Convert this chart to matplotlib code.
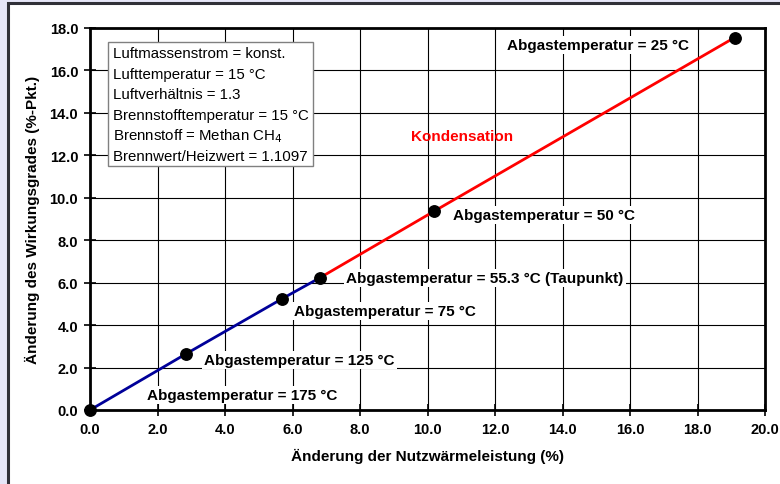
import matplotlib.pyplot as plt
import matplotlib.patches as patches
from matplotlib.ticker import FormatStrFormatter

plt.rcParams['font.family'] = ['Liberation Sans', 'DejaVu Sans']

# Daten
waerme_unter = [0.0, 2.85, 5.7, 6.8]       # Änderung Nutzwärmeleistung (%), oberhalb Taupunkt
wirk_unter = [0.0, 2.65, 5.25, 6.22]       # Änderung Wirkungsgrad (%-Pkt.)
waerme_kond = [6.8, 10.2, 19.1]            # Kondensationsbereich
wirk_kond = [6.22, 9.37, 17.55]
punkte_x = [0.0, 2.85, 5.7, 6.8, 10.2, 19.1]
punkte_y = [0.0, 2.65, 5.25, 6.22, 9.37, 17.55]
labels = ['Abgastemperatur = 175 °C', 'Abgastemperatur = 125 °C',
          'Abgastemperatur = 75 °C', 'Abgastemperatur = 55.3 °C (Taupunkt)',
          'Abgastemperatur = 50 °C', 'Abgastemperatur = 25 °C']
label_pos = [(1.69, 0.71), (3.38, 2.36), (6.04, 4.67), (7.59, 6.22), (10.76, 9.19), (12.36, 17.2)]
info_zeilen = ['Luftmassenstrom = konst.', 'Lufttemperatur = 15 °C',
               'Luftverhältnis = 1.3', 'Brennstofftemperatur = 15 °C',
               'Brennstoff = Methan CH$_4$', 'Brennwert/Heizwert = 1.1097']

fig = plt.figure(figsize=(7.8, 4.85), dpi=100)
fig.patch.set_facecolor('#e6e6f8')
# weißer Rahmen
fig.patches.append(patches.Rectangle((8 / 780, -0.1), 1.2, 1 - 4 / 485 + 0.1,
                                     transform=fig.transFigure, facecolor='white',
                                     edgecolor='#303038', lw=2.2, zorder=-10))

ax = fig.add_axes([90 / 780, 1 - 411 / 485, 675 / 780, 382 / 485])
ax.set_xlim(0, 20)
ax.set_ylim(0, 18)
ax.set_xticks(range(0, 21, 2))
ax.set_yticks(range(0, 19, 2))
ax.xaxis.set_major_formatter(FormatStrFormatter('%.1f'))
ax.yaxis.set_major_formatter(FormatStrFormatter('%.1f'))
ax.grid(True, color='black', lw=0.8, zorder=0)
ax.set_axisbelow(True)
for s in ax.spines.values():
    s.set_linewidth(2)
ax.tick_params(direction='inout', length=9, width=1.2, labelsize=10.5, pad=4)
for lab in ax.get_xticklabels() + ax.get_yticklabels():
    lab.set_fontweight('bold')

ax.plot(waerme_unter, wirk_unter, color='#000099', lw=2, zorder=3)
ax.plot(waerme_kond, wirk_kond, color='red', lw=2, zorder=3)
ax.scatter(punkte_x, punkte_y, s=68, color='black', zorder=5, clip_on=False)

for txt, (x, y) in zip(labels, label_pos):
    ax.text(x, y, txt, fontsize=11, fontweight='bold', va='center', zorder=4,
            bbox=dict(facecolor='white', edgecolor='none', pad=1.5))

ax.text(9.51, 12.91, 'Kondensation', color='red', fontsize=11, fontweight='bold',
        va='center', zorder=4)

# Infobox
ax.add_patch(patches.Rectangle((0.53, 11.5), 6.09, 5.84, facecolor='white',
                               edgecolor='#808080', lw=1, zorder=4))
for i, zeile in enumerate(info_zeilen):
    ax.text(0.67, 16.8 - i * 0.965, zeile, fontsize=10.8, va='center', zorder=5)

ax.set_xlabel('Änderung der Nutzwärmeleistung (%)', fontsize=11, fontweight='bold', labelpad=9)
ax.set_ylabel('Änderung des Wirkungsgrades (%-Pkt.)', fontsize=11, fontweight='bold', labelpad=7)

fig.savefig('out.png', dpi=100, facecolor=fig.get_facecolor())
